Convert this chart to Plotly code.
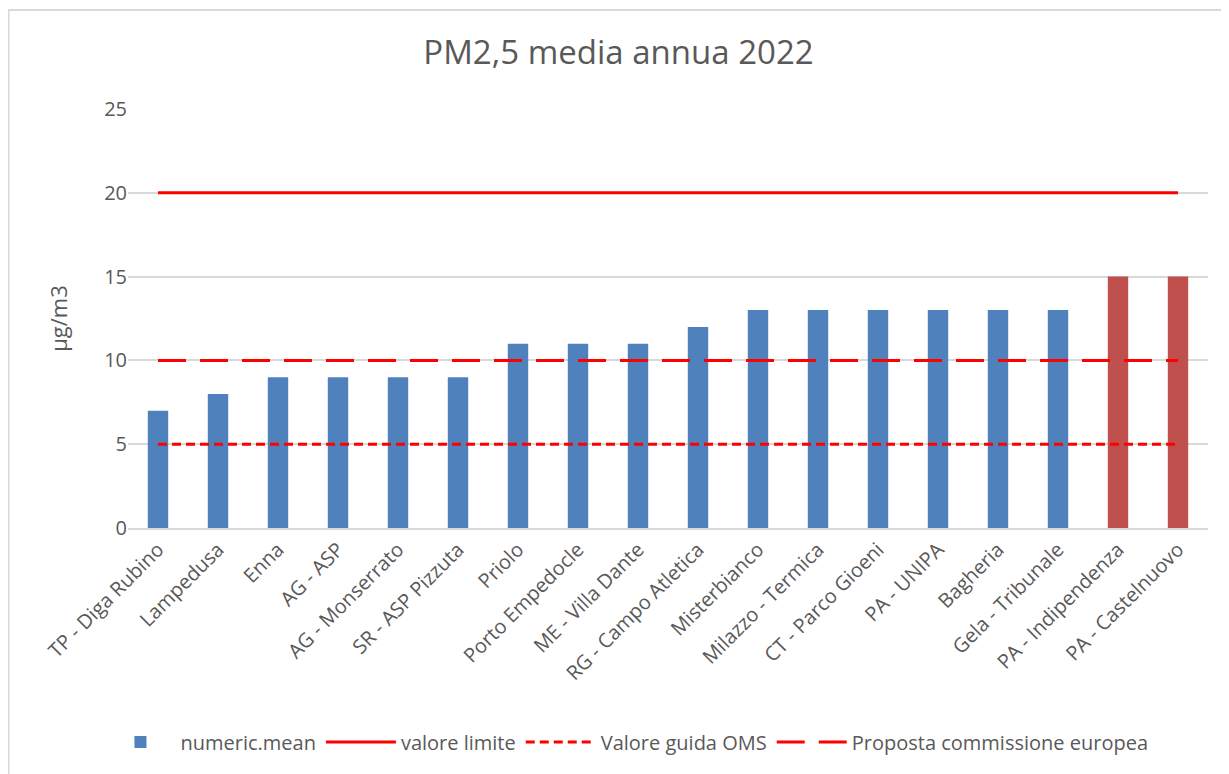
import plotly.graph_objects as go

# data
stazioni = ["TP - Diga Rubino", "Lampedusa", "Enna", "AG - ASP", "AG - Monserrato",
            "SR - ASP Pizzuta", "Priolo", "Porto Empedocle", "ME - Villa Dante",
            "RG - Campo Atletica", "Misterbianco", "Milazzo - Termica", "CT - Parco Gioeni",
            "PA - UNIPA", "Bagheria", "Gela - Tribunale", "PA - Indipendenza", "PA - Castelnuovo"]
media = [7, 8, 9, 9, 9, 9, 11, 11, 11, 12, 13, 13, 13, 13, 13, 13, 15, 15]
valore_limite = [20] * len(stazioni)
guida_oms = [5] * len(stazioni)
proposta_ue = [10] * len(stazioni)

blu = "#4F81BD"
rosso_barra = "#C0504D"
colori = [rosso_barra if v >= 15 else blu for v in media]

fig = go.Figure()
fig.add_trace(go.Bar(x=stazioni, y=media, name="numeric.mean",
                     marker=dict(color=colori, line_width=0), width=0.34))
fig.add_trace(go.Scatter(x=stazioni, y=valore_limite, name="valore limite", mode="lines",
                         line=dict(color="#FF0000", width=3)))
fig.add_trace(go.Scatter(x=stazioni, y=guida_oms, name="Valore guida OMS", mode="lines",
                         line=dict(color="#FF0000", width=3, dash="9px,5px")))
fig.add_trace(go.Scatter(x=stazioni, y=proposta_ue, name="Proposta commissione europea",
                         mode="lines", line=dict(color="#FF0000", width=3, dash="28px,14px")))

# page body adds 8px around the figure, so size is reduced accordingly
fig.update_layout(
    width=1221, height=766,
    font=dict(family="'Open Sans', sans-serif", color="#595959", size=20),
    title=dict(text="PM2,5 media annua 2022", x=0.5, xanchor="center",
               y=0.9426, yanchor="middle", yref="container",
               font=dict(size=33, color="#595959")),
    margin=dict(l=120, r=21, t=101, b=246),
    plot_bgcolor="white", paper_bgcolor="white",
    showlegend=True,
    legend=dict(orientation="h", x=0.462, xanchor="center", y=-0.511, yanchor="middle",
                font=dict(size=20), traceorder="normal", itemwidth=70),
    shapes=[dict(type="rect", xref="paper", yref="paper", x0=-0.1106, x1=1.05,
                 y0=-0.7, y1=1.236, line=dict(color="#D9D9D9", width=2))],
)
fig.update_xaxes(tickangle=-45, tickfont=dict(size=20), showgrid=False,
                 showline=True, linecolor="#D9D9D9", linewidth=2, ticks="")
fig.update_yaxes(range=[0, 25], dtick=5, gridcolor="#D9D9D9", gridwidth=2,
                 zeroline=False, tickfont=dict(size=20),
                 title=dict(text="µg/m3", font=dict(size=22), standoff=30))

fig.write_html("out.html")
